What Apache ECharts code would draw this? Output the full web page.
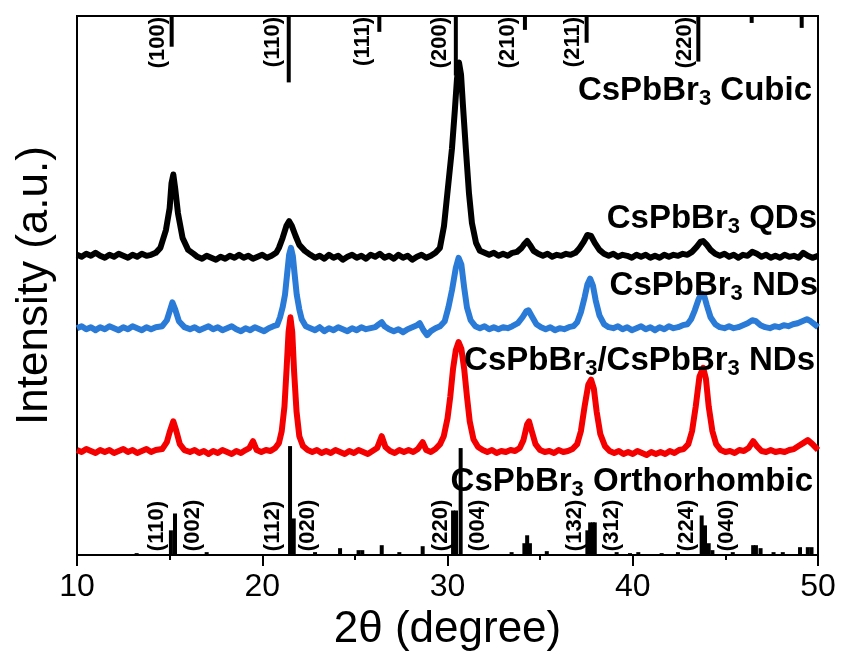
<!DOCTYPE html>
<html>
<head>
<meta charset="utf-8">
<script src="https://cdn.jsdelivr.net/npm/echarts@6/dist/echarts.min.js"></script>
<style>
  html, body { margin: 0; padding: 0; background: #fff; }
  #chart { width: 841px; height: 657px; }
</style>
</head>
<body>
<div id="chart"></div>
<script>
// intensities in a.u. (axis spans 0..544)
const Y_MAX = 544

const qdCurve = [
  [10.0,303],[10.25,301],[10.5,304],[10.75,302],[11.0,305],[11.25,302],[11.5,300],[11.75,303],
  [12.0,301],[12.25,304],[12.5,302],[12.75,300],[13.0,303],[13.25,301],[13.5,304],[13.75,302],
  [14.0,303],[14.25,305],[14.5,310],[14.8,328],[15.0,350],[15.1,375],[15.2,384],[15.3,370],
  [15.45,345],[15.7,320],[16.0,308],[16.3,304],[16.5,301],[16.75,299],[17.0,302],[17.25,300],
  [17.5,298],[17.75,301],[18.0,299],[18.25,302],[18.5,300],[18.75,303],[19.0,300],[19.25,302],
  [19.5,299],[19.75,301],[20.0,303],[20.25,300],[20.5,302],[20.75,305],[20.9,310],[21.1,320],
  [21.3,332],[21.45,337],[21.6,332],[21.8,322],[22.0,313],[22.3,307],[22.6,303],[22.85,300],
  [23.1,302],[23.35,299],[23.6,303],[23.85,300],[24.1,302],[24.35,298],[24.6,301],[24.85,303],
  [25.1,300],[25.35,302],[25.6,299],[25.85,303],[26.1,301],[26.35,304],[26.6,300],[26.85,302],
  [27.1,299],[27.35,303],[27.6,300],[27.85,302],[28.1,298],[28.35,301],[28.6,303],[28.85,300],
  [29.1,302],[29.35,305],[29.59,310],[29.81,332],[30.02,370],[30.24,410],[30.4,450],[30.51,480],
  [30.62,497],[30.73,485],[30.83,455],[30.99,410],[31.16,365],[31.32,335],[31.54,315],[31.75,307],
  [32.0,305],[32.25,303],[32.5,305],[32.75,302],[33.0,304],[33.25,302],[33.5,305],[33.75,306],
  [34.0,310],[34.15,314],[34.3,317],[34.45,313],[34.65,307],[34.9,304],[35.15,302],[35.4,304],
  [35.65,301],[35.9,303],[36.15,302],[36.4,304],[36.65,303],[36.9,305],[37.1,309],[37.35,316],
  [37.55,323],[37.75,322],[37.95,315],[38.2,308],[38.45,304],[38.7,302],[38.95,304],[39.2,301],
  [39.45,303],[39.7,302],[39.95,300],[40.2,303],[40.45,301],[40.7,303],[40.95,300],[41.2,302],
  [41.45,300],[41.7,303],[41.95,301],[42.2,303],[42.45,302],[42.7,304],[42.95,303],[43.2,306],
  [43.45,311],[43.65,316],[43.8,317],[44.0,313],[44.2,308],[44.45,304],[44.7,302],[44.95,304],
  [45.2,301],[45.45,303],[45.7,300],[45.95,303],[46.2,302],[46.45,306],[46.7,304],[46.95,301],
  [47.2,303],[47.45,300],[47.7,302],[47.95,300],[48.2,303],[48.45,301],[48.7,302],[48.95,300],
  [49.2,305],[49.45,302],[49.7,300],[50.0,302]
]

const ndCurve = [
  [10.0,229],[10.25,231],[10.5,228],[10.75,230],[11.0,227],[11.25,230],[11.5,228],[11.75,231],
  [12.0,229],[12.25,227],[12.5,230],[12.75,228],[13.0,231],[13.25,229],[13.5,227],[13.75,230],
  [14.0,228],[14.25,230],[14.6,231],[14.85,237],[15.0,246],[15.15,255],[15.3,248],[15.5,236],
  [15.8,230],[16.1,228],[16.35,230],[16.6,227],[16.85,229],[17.1,231],[17.35,228],[17.6,230],
  [17.85,227],[18.1,229],[18.35,231],[18.6,228],[18.85,226],[19.1,229],[19.35,227],[19.6,230],
  [19.85,228],[20.1,226],[20.35,229],[20.6,231],[20.8,232],[20.96,240],[21.1,250],[21.23,263],
  [21.35,285],[21.45,303],[21.55,310],[21.65,302],[21.75,283],[21.86,263],[22.0,248],[22.13,238],
  [22.35,231],[22.6,229],[22.85,227],[23.1,230],[23.35,226],[23.6,229],[23.85,227],[24.1,230],
  [24.35,228],[24.6,226],[24.85,229],[25.1,227],[25.35,230],[25.6,228],[25.85,229],[26.1,230],
  [26.3,233],[26.45,235],[26.6,231],[26.85,228],[27.1,226],[27.35,228],[27.6,225],[27.85,228],
  [28.1,230],[28.35,232],[28.5,234],[28.7,227],[28.9,222],[29.1,226],[29.35,229],[29.6,231],
  [29.85,236],[30.05,250],[30.25,268],[30.45,290],[30.6,300],[30.75,293],[30.9,270],[31.05,250],
  [31.25,237],[31.5,231],[31.75,229],[32.0,231],[32.25,228],[32.5,230],[32.75,228],[33.0,230],
  [33.25,229],[33.5,231],[33.8,234],[34.05,240],[34.25,246],[34.37,247],[34.55,241],[34.8,233],
  [35.05,230],[35.3,228],[35.55,230],[35.8,227],[36.05,229],[36.3,228],[36.55,230],[36.8,231],
  [37.0,235],[37.2,245],[37.4,260],[37.55,273],[37.7,279],[37.85,272],[38.0,257],[38.2,242],
  [38.45,233],[38.7,230],[38.95,229],[39.2,231],[39.45,228],[39.7,230],[39.95,227],[40.2,229],
  [40.45,231],[40.7,228],[40.95,230],[41.2,227],[41.45,230],[41.7,228],[41.95,231],[42.2,229],
  [42.45,230],[42.7,232],[42.95,233],[43.15,238],[43.35,247],[43.55,258],[43.7,264],[43.85,262],
  [44.0,252],[44.2,240],[44.45,233],[44.7,230],[44.95,229],[45.2,231],[45.45,229],[45.7,230],
  [45.95,232],[46.2,234],[46.45,237],[46.65,236],[46.9,232],[47.15,230],[47.4,229],[47.65,231],
  [47.9,230],[48.15,232],[48.4,231],[48.65,233],[48.9,234],[49.15,236],[49.4,238],[49.6,236],
  [49.8,233],[50.0,230]
]

const coreShellCurve = [
  [10.0,106],[10.25,104],[10.5,107],[10.75,105],[11.0,103],[11.25,106],[11.5,104],[11.75,106],
  [12.0,103],[12.25,105],[12.5,107],[12.75,104],[13.0,106],[13.25,103],[13.5,105],[13.75,107],
  [14.0,104],[14.25,106],[14.6,107],[14.85,114],[15.0,124],[15.2,135],[15.35,126],[15.55,112],
  [15.8,106],[16.1,104],[16.35,106],[16.6,103],[16.85,105],[17.1,102],[17.35,105],[17.6,103],
  [17.85,106],[18.1,104],[18.35,102],[18.6,105],[18.85,103],[19.1,106],[19.3,108],[19.5,115],
  [19.7,106],[19.95,104],[20.2,106],[20.45,105],[20.7,108],[20.9,113],[21.05,125],[21.2,150],
  [21.32,190],[21.42,225],[21.52,240],[21.62,225],[21.72,185],[21.85,145],[22.0,120],[22.2,110],
  [22.45,106],[22.7,104],[22.95,106],[23.2,103],[23.45,105],[23.7,103],[23.95,106],[24.2,104],
  [24.45,102],[24.7,105],[24.95,103],[25.2,106],[25.45,104],[25.7,102],[25.95,105],[26.2,108],
  [26.45,120],[26.65,109],[26.9,105],[27.15,103],[27.4,106],[27.65,104],[27.9,106],[28.15,104],
  [28.4,107],[28.66,114],[28.85,106],[29.1,104],[29.35,107],[29.6,112],[29.8,120],[30.0,138],
  [30.15,160],[30.3,188],[30.45,207],[30.6,215],[30.75,208],[30.9,188],[31.05,160],[31.2,135],
  [31.4,117],[31.65,109],[31.9,106],[32.15,104],[32.4,106],[32.65,103],[32.9,105],[33.15,104],
  [33.4,106],[33.65,105],[33.9,108],[34.1,116],[34.3,132],[34.4,135],[34.55,125],[34.75,112],
  [35.0,106],[35.25,104],[35.5,105],[35.75,103],[36.0,106],[36.25,104],[36.5,105],[36.75,107],
  [37.0,112],[37.2,125],[37.4,150],[37.6,172],[37.75,177],[37.9,168],[38.05,145],[38.25,122],
  [38.5,110],[38.75,105],[39.0,103],[39.25,105],[39.5,102],[39.75,104],[40.0,102],[40.25,105],
  [40.5,103],[40.75,101],[41.0,104],[41.25,102],[41.5,104],[41.75,102],[42.0,105],[42.25,103],
  [42.5,106],[42.75,107],[43.0,112],[43.2,125],[43.4,150],[43.6,180],[43.8,189],[43.95,178],
  [44.1,150],[44.3,125],[44.5,112],[44.75,106],[45.0,104],[45.25,105],[45.5,103],[45.75,106],
  [46.0,105],[46.25,108],[46.5,115],[46.7,110],[46.95,105],[47.2,104],[47.45,106],[47.7,104],
  [47.95,105],[48.2,104],[48.45,106],[48.7,107],[48.95,110],[49.2,113],[49.45,116],[49.7,112],
  [50.0,106]
]

// cubic reference pattern: [2θ, length hanging from the top]
const cubicSticks = [
  [15.11,31],[21.43,67],[26.32,16],[30.45,60],[34.18,14],[37.51,27],[43.54,46],[46.42,7],[49.12,12]
]
const cubicHkl = ['(100)', '(110)', '(111)', '(200)', '(210)', '(211)', '(220)']
const cubicHklAt = [14.37, 20.58, 25.44, 29.6, 33.27, 36.77, 42.82]

// orthorhombic reference pattern: [2θ, height from the bottom]
const orthoSticks = [
  [13.22,2],[15.07,25],[15.29,42],[17.0,3],[21.5,110],[21.7,37],[22.85,3],[24.2,7],[25.2,5],
  [25.4,5],[26.45,10],[27.4,3],[28.66,9],[30.3,45],[30.46,45],[30.71,108],[33.46,3],[34.15,12],
  [34.3,20],[34.45,12],[35.36,4],[37.55,25],[37.7,33],[37.85,33],[37.95,33],[39.13,3],[39.85,2],
  [40.3,3],[41.56,2],[42.44,3],[43.72,40],[43.9,30],[44.1,12],[44.3,5],[45.4,3],[46.5,10],
  [46.65,10],[46.9,7],[47.6,3],[48.1,3],[49.03,8],[49.45,8],[49.65,8]
]
const orthoHkl = ['(110)', '(002)', '(112)', '(020)', '(220)', '(004)', '(132)', '(312)', '(224)', '(040)']
const orthoHklAt = [14.3, 16.28, 20.6, 22.49, 29.63, 31.66, 36.88, 38.86, 42.91, 45.07]

const xTicks = [10, 20, 30, 40, 50]

const FONT = '"Liberation Sans", Arial, Helvetica, sans-serif'

function stickSeries(sticks, fromTop) {
  return {
    type: 'custom',
    silent: true,
    z: 3,
    data: sticks,
    renderItem: (params, api) => {
      const x = api.value(0)
      const h = api.value(1)
      const a = api.coord([x, fromTop ? Y_MAX : 0])
      const b = api.coord([x, fromTop ? Y_MAX - h : h])
      return {
        type: 'line',
        shape: { x1: a[0], y1: a[1], x2: b[0], y2: b[1] },
        style: { stroke: '#000', lineWidth: 4 },
      }
    },
  }
}

function hklSeries(labels, positions, fromTop) {
  return {
    type: 'custom',
    silent: true,
    z: 4,
    data: positions.map((x) => [x]),
    renderItem: (params, api) => {
      const p = api.coord([api.value(0), fromTop ? Y_MAX - 1 : 4])
      return {
        type: 'text',
        x: p[0],
        y: p[1],
        rotation: Math.PI / 2,
        style: {
          text: labels[params.dataIndex],
          font: 'bold 22px ' + FONT,
          fill: '#000',
          align: fromTop ? 'right' : 'left',
          verticalAlign: 'middle',
        },
      }
    },
  }
}

function curveSeries(name, data, color) {
  return {
    name,
    type: 'line',
    data,
    symbol: 'none',
    smooth: false,
    z: 2,
    lineStyle: { color, width: 6, join: 'round' },
  }
}

// subscript: the top padding pushes the smaller "3" below the baseline
const rich = {
  b: { fontSize: 33, fontWeight: 'bold', fontFamily: FONT },
  s: { fontSize: 22, fontWeight: 'bold', fontFamily: FONT, padding: [16, 0, 0, 0] },
}

function tag(text, x, y) {
  return {
    type: 'text',
    x,
    y,
    z: 100,
    style: { text, rich, fill: '#000', align: 'right', verticalAlign: 'top' },
  }
}

const chart = echarts.init(document.getElementById('chart'), null, { renderer: 'canvas' })

chart.setOption({
  animation: false,
  backgroundColor: '#fff',
  grid: {
    left: 77,
    right: 23,
    top: 16,
    bottom: 97,
    show: true,
    borderColor: '#000',
    borderWidth: 2,
  },
  xAxis: {
    type: 'value',
    min: xTicks[0],
    max: xTicks[xTicks.length - 1],
    interval: 10,
    name: '2θ (degree)',
    nameLocation: 'middle',
    nameGap: 48,
    nameTextStyle: { fontSize: 44, color: '#000', fontFamily: FONT },
    axisLine: { lineStyle: { color: '#000', width: 2 } },
    axisTick: { length: 11, lineStyle: { color: '#000', width: 2 } },
    minorTick: { show: true, splitNumber: 2, length: 5, lineStyle: { color: '#000', width: 2 } },
    axisLabel: { fontSize: 32, color: '#000', fontFamily: FONT, margin: 16 },
    splitLine: { show: false },
  },
  yAxis: {
    type: 'value',
    min: 0,
    max: Y_MAX,
    name: 'Intensity (a.u.)',
    nameLocation: 'middle',
    nameGap: 20,
    nameTextStyle: { fontSize: 44, color: '#000', fontFamily: FONT },
    axisLine: { show: true, lineStyle: { color: '#000', width: 2 } },
    axisTick: { show: false },
    axisLabel: { show: false },
    splitLine: { show: false },
  },
  series: [
    curveSeries('CsPbBr3 QDs', qdCurve, '#000000'),
    curveSeries('CsPbBr3 NDs', ndCurve, '#2a7ad8'),
    curveSeries('CsPbBr3/CsPbBr3 NDs', coreShellCurve, '#f50000'),
    stickSeries(cubicSticks, true),
    stickSeries(orthoSticks, false),
    hklSeries(cubicHkl, cubicHklAt, true),
    hklSeries(orthoHkl, orthoHklAt, false),
  ],
  graphic: [
    tag('{b|CsPbBr}{s|3}{b| Cubic}', 812, 72),
    tag('{b|CsPbBr}{s|3}{b| QDs}', 817, 200),
    tag('{b|CsPbBr}{s|3}{b| NDs}', 818, 267),
    tag('{b|CsPbBr}{s|3}{b|/CsPbBr}{s|3}{b| NDs}', 815, 342),
    tag('{b|CsPbBr}{s|3}{b| Orthorhombic}', 813, 463),
  ],
})
</script>
</body>
</html>
